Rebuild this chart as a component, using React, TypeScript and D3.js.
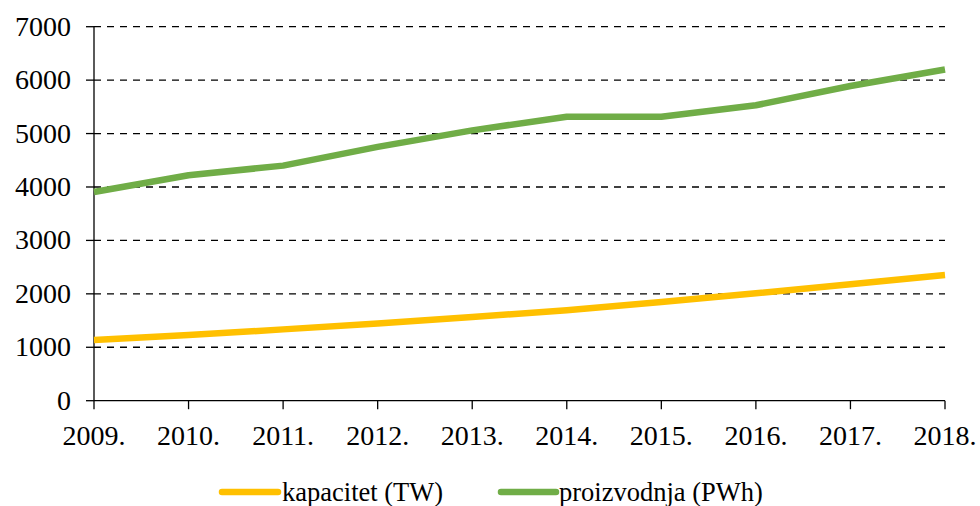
import React from "react";
import * as d3 from "d3";

const years = ["2009.", "2010.", "2011.", "2012.", "2013.", "2014.", "2015.", "2016.", "2017.", "2018."];
const kapacitet = [1136, 1228, 1335, 1445, 1566, 1695, 1849, 2011, 2179, 2351];
const proizvodnja = [3905, 4220, 4400, 4750, 5060, 5315, 5315, 5530, 5890, 6200];
const yTicks = [0, 1000, 2000, 3000, 4000, 5000, 6000, 7000];
const seriesNames = ["kapacitet (TW)", "proizvodnja (PWh)"];
const seriesColors = ["#FFC000", "#70AD47"];

const W = 980;
const H = 506;
const left = 94;
const right = 945;
const top = 26.7;
const bottom = 400.7;
const FONT = "Liberation Serif";

export default function App() {
  const x = d3.scalePoint<string>().domain(years).range([left, right]);
  const y = d3.scaleLinear().domain([0, 7000]).range([bottom, top]);
  const line = d3
    .line<number>()
    .x((_, i) => x(years[i]) as number)
    .y((d) => y(d));
  const series = [kapacitet, proizvodnja];

  const legend = [
    { x1: 222, x2: 278, tx: 282 },
    { x1: 501, x2: 556, tx: 559 },
  ];

  return (
    <div style={{ position: "absolute", left: 0, top: 0, width: W, height: H, fontFamily: FONT }}>
      <svg width={W} height={H} fontFamily={FONT} style={{ display: "block", background: "#fff", fontFamily: FONT }}>
        <style>{"text { font-family: 'Liberation Serif', 'Times New Roman', serif; }"}</style>
        {yTicks
          .filter((t) => t > 0)
          .map((t) => (
            <line
              key={"g" + t}
              x1={left}
              x2={right}
              y1={y(t)}
              y2={y(t)}
              stroke="#000"
              strokeWidth={1.3}
              strokeDasharray="7,6"
            />
          ))}
        <line x1={left} x2={left} y1={top} y2={bottom} stroke="#000" strokeWidth={1.3} />
        {yTicks.map((t) => (
          <g key={"yt" + t}>
            <line x1={left - 8} x2={left} y1={y(t)} y2={y(t)} stroke="#000" strokeWidth={1.3} />
            <text x={71} y={y(t) + 9} textAnchor="end" fontSize={28} fill="#000" fontFamily={FONT} style={{ fontFamily: FONT }}>
              {t}
            </text>
          </g>
        ))}
        <line x1={left} x2={right} y1={bottom} y2={bottom} stroke="#000" strokeWidth={1.3} />
        {years.map((yr) => (
          <g key={yr}>
            <line x1={x(yr)} x2={x(yr)} y1={bottom} y2={bottom + 8.5} stroke="#000" strokeWidth={1.3} />
            <text x={x(yr)} y={445} textAnchor="middle" fontSize={28} fill="#000" fontFamily={FONT} style={{ fontFamily: FONT }}>
              {yr}
            </text>
          </g>
        ))}
        {series.map((s, i) => (
          <path
            key={"s" + i}
            d={line(s) || ""}
            fill="none"
            stroke={seriesColors[i]}
            strokeWidth={6.5}
            strokeLinejoin="round"
          />
        ))}
        {seriesNames.map((n, i) => (
          <g key={n}>
            <line
              x1={legend[i].x1}
              x2={legend[i].x2}
              y1={492}
              y2={492}
              stroke={seriesColors[i]}
              strokeWidth={6.5}
              strokeLinecap="round"
            />
            <text x={legend[i].tx} y={501} fontSize={26.5} fill="#000" fontFamily={FONT} style={{ fontFamily: FONT }}>
              {n}
            </text>
          </g>
        ))}
      </svg>
    </div>
  );
}
